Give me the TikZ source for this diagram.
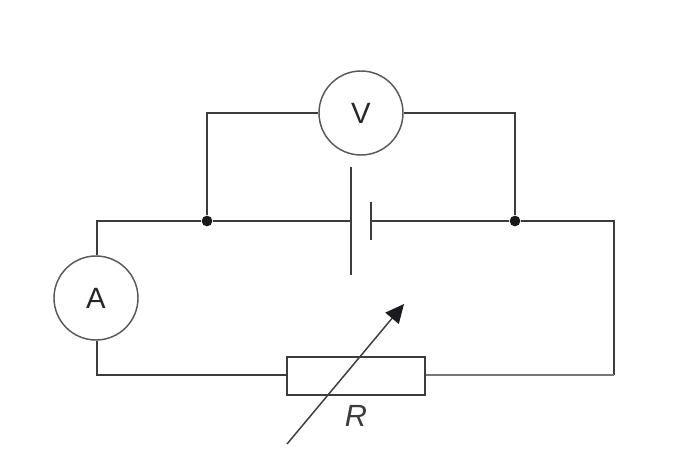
\documentclass[tikz,border=0pt]{standalone}
\usepackage{fontspec}
\setmainfont{Liberation Sans}
\usetikzlibrary{arrows.meta}
\definecolor{ink}{HTML}{3C3C3C}
\definecolor{softink}{HTML}{777777}
\definecolor{tipink}{HTML}{1A1A1F}
\tikzset{x=0.75pt,y=-0.75pt,
 wire/.style={draw=ink,line width=1.1pt},
 softwire/.style={draw=softink,line width=1.1pt},
 meter/.style={circle,draw=ink!85,line width=1.1pt,minimum size=63pt,inner sep=0pt,font=\fontsize{22}{24}\selectfont,text=black!85,fill=white},
 junction/.style={circle,fill=black!90,inner sep=0pt,minimum size=8pt},
 resistor/.style={rectangle,draw=ink,line width=1.1pt,minimum width=103.5pt,minimum height=28.5pt,inner sep=0pt},
 lab/.style={font=\itshape\fontsize{23}{25}\selectfont,text=ink,inner sep=0pt}}
\begin{document}
\begin{tikzpicture}
\useasboundingbox (0,0) rectangle (694,456);
\coordinate (tl) at (97,221);
\coordinate (bl) at (97,375);
\coordinate (tr) at (614,221);
\coordinate (br) at (614,375);
\coordinate (vl) at (207,113);
\coordinate (vr) at (515,113);
\coordinate (bat1) at (351,221);
\coordinate (bat2) at (371,221);
\coordinate (c1t) at (351,167);
\coordinate (c1b) at (351,275);
\coordinate (c2t) at (371,202);
\coordinate (c2b) at (371,240);
\coordinate (as) at (287,444);
\coordinate (ae) at (404,304);
\node[junction] (j1) at (207,221) {};
\node[junction] (j2) at (515,221) {};
\node[meter] (V) at (361,113) {V};
\node[meter] (A) at (96,298) {A};
\node[resistor] (R) at (356,376) {};
\draw[wire] (V) -- (vl) -- (j1);
\draw[wire] (V) -- (vr) -- (j2);
\draw[wire] (A.north -| tl) -- (tl) -- (j1) -- (bat1);
\draw[wire] (bat2) -- (j2) -- (tr) -- (br);
\draw[softwire] (br) -- (R.east |- br);
\draw[wire] (A.south -| bl) -- (bl) -- (R.west |- bl);
\draw[wire] (c1t) -- (c1b);
\draw[wire] (c2t) -- (c2b);
\draw[wire,-{Triangle[length=14pt,width=13pt,fill=tipink,color=tipink]}] (as) -- (ae);
\node[lab] (Rl) at (356,416) {R};
\end{tikzpicture}
\end{document}
